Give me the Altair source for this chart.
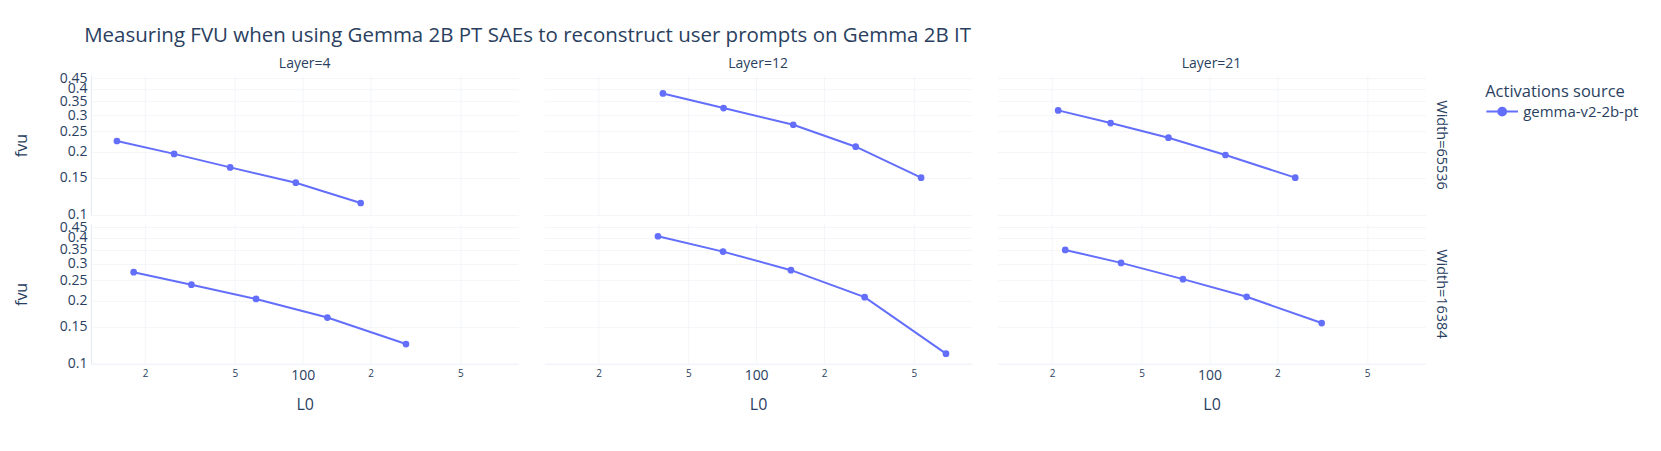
import altair as alt
import pandas as pd

# ---- data ----
layers = [4, 12, 21]
widths = [65536, 16384]
source = "gemma-v2-2b-pt"

# L0 values per (width, layer)
l0_w65536_l4 = [15.0, 26.9, 47.7, 93.2, 180.8]
l0_w65536_l12 = [38.6, 71.7, 146.1, 276.4, 539.0]
l0_w65536_l21 = [21.3, 36.4, 65.7, 117.6, 239.8]
l0_w16384_l4 = [17.8, 32.1, 62.1, 128.7, 287.2]
l0_w16384_l12 = [36.7, 71.3, 142.7, 302.9, 695.0]
l0_w16384_l21 = [22.9, 40.5, 76.2, 146.1, 314.1]

# FVU values per (width, layer)
fvu_w65536_l4 = [0.2253, 0.1954, 0.1683, 0.1421, 0.1136]
fvu_w65536_l12 = [0.381, 0.324, 0.2696, 0.2115, 0.1503]
fvu_w65536_l21 = [0.3158, 0.2746, 0.2336, 0.1930, 0.1503]
fvu_w16384_l4 = [0.2737, 0.2384, 0.2037, 0.1658, 0.1238]
fvu_w16384_l12 = [0.4070, 0.3435, 0.2798, 0.2078, 0.1113]
fvu_w16384_l21 = [0.3499, 0.3033, 0.2534, 0.2085, 0.1561]

x_ticks = [20, 50, 100, 200, 500]
y_ticks = [0.1, 0.15, 0.2, 0.25, 0.3, 0.35, 0.4, 0.45]

series = {
    (65536, 4): (l0_w65536_l4, fvu_w65536_l4),
    (65536, 12): (l0_w65536_l12, fvu_w65536_l12),
    (65536, 21): (l0_w65536_l21, fvu_w65536_l21),
    (16384, 4): (l0_w16384_l4, fvu_w16384_l4),
    (16384, 12): (l0_w16384_l12, fvu_w16384_l12),
    (16384, 21): (l0_w16384_l21, fvu_w16384_l21),
}

rows = []
for (w, l), (xs, ys) in series.items():
    for i, (x, y) in enumerate(zip(xs, ys)):
        rows.append({"Width": w, "Layer": l, "L0": x, "fvu": y, "order": i, "source": source})
df = pd.DataFrame(rows)

FONT = "Open Sans"
TXT = "#2a3f5f"
GRID = "#F3F5F9"
LINE = "#E3E8F0"
BLUE = "#636efa"

x_axis = alt.Axis(
    values=x_ticks,
    labelExpr="datum.value == 100 ? '100' : (datum.value == 20 || datum.value == 200 ? '2' : '5')",
    labelFontSize={"condition": {"test": "datum.value == 100", "value": 14}, "value": 10},
    labelFont=FONT, labelColor=TXT, labelPadding=5, labelOverlap=False,
    ticks=False, grid=True, gridColor=GRID, domainColor=LINE,
    title="L0", titleFont=FONT, titleFontSize=16, titleFontWeight="normal",
    titleColor=TXT, titlePadding=14,
)
y_axis = alt.Axis(
    values=y_ticks, format="~g", labelOverlap=False,
    labelFont=FONT, labelFontSize=14, labelColor=TXT, labelPadding=4,
    ticks=False, grid=True, gridColor=GRID, domainColor=LINE,
    title="fvu", titleFont=FONT, titleFontSize=16, titleFontWeight="normal",
    titleColor=TXT, titlePadding=30,
)

legend_symbol = "M-1,0L1,0M-0.25,0A0.25,0.25 0 1,0 0.25,0A0.25,0.25 0 1,0 -0.25,0Z"

base = alt.Chart(df).encode(
    x=alt.X("L0:Q", scale=alt.Scale(type="log", domain=[11.5, 905], nice=False), axis=x_axis),
    y=alt.Y("fvu:Q", scale=alt.Scale(type="log", domain=[0.0995, 0.466], nice=False), axis=y_axis),
    color=alt.Color(
        "source:N",
        scale=alt.Scale(range=[BLUE]),
        legend=alt.Legend(
            title="Activations source",
            titleFont=FONT, titleFontSize=16.5, titleFontWeight="normal", titleColor=TXT,
            titlePadding=-6,
            labelFont=FONT, labelFontSize=15, labelColor=TXT, labelOffset=4,
            symbolType=legend_symbol, symbolSize=1000, symbolStrokeWidth=2,
            symbolFillColor=BLUE, symbolStrokeColor=BLUE,
            padding=9, offset=27,
        ),
    ),
    order="order:Q",
)

lines = base.mark_line(strokeWidth=2)
points = base.mark_point(filled=True, size=45, opacity=1, shape="circle")

chart = alt.layer(lines, points).properties(width=428, height=140).facet(
    column=alt.Column(
        "Layer:O", sort=layers,
        header=alt.Header(
            title=None, labelExpr="'Layer=' + datum.value",
            labelFont=FONT, labelFontSize=14, labelColor=TXT, labelPadding=4,
        ),
    ),
    row=alt.Row(
        "Width:O", sort=widths,
        header=alt.Header(
            title=None, labelExpr="'Width=' + datum.value",
            labelFont=FONT, labelFontSize=14.5, labelColor=TXT,
            labelOrient="right", labelAngle=90, labelPadding=8,
        ),
    ),
    spacing={"row": 9, "column": 26},
).properties(
    title=alt.TitleParams(
        "Measuring FVU when using Gemma 2B PT SAEs to reconstruct user prompts on Gemma 2B IT",
        anchor="start", font=FONT, fontSize=20.5, fontWeight="normal", color=TXT,
        offset=14, dx=71, dy=3,
    ),
    background="white",
    padding={"left": 5, "top": 17, "right": 5, "bottom": 5},
).configure_view(stroke=None)

chart.save("out.html", embed_options={"renderer": "svg", "actions": False})
